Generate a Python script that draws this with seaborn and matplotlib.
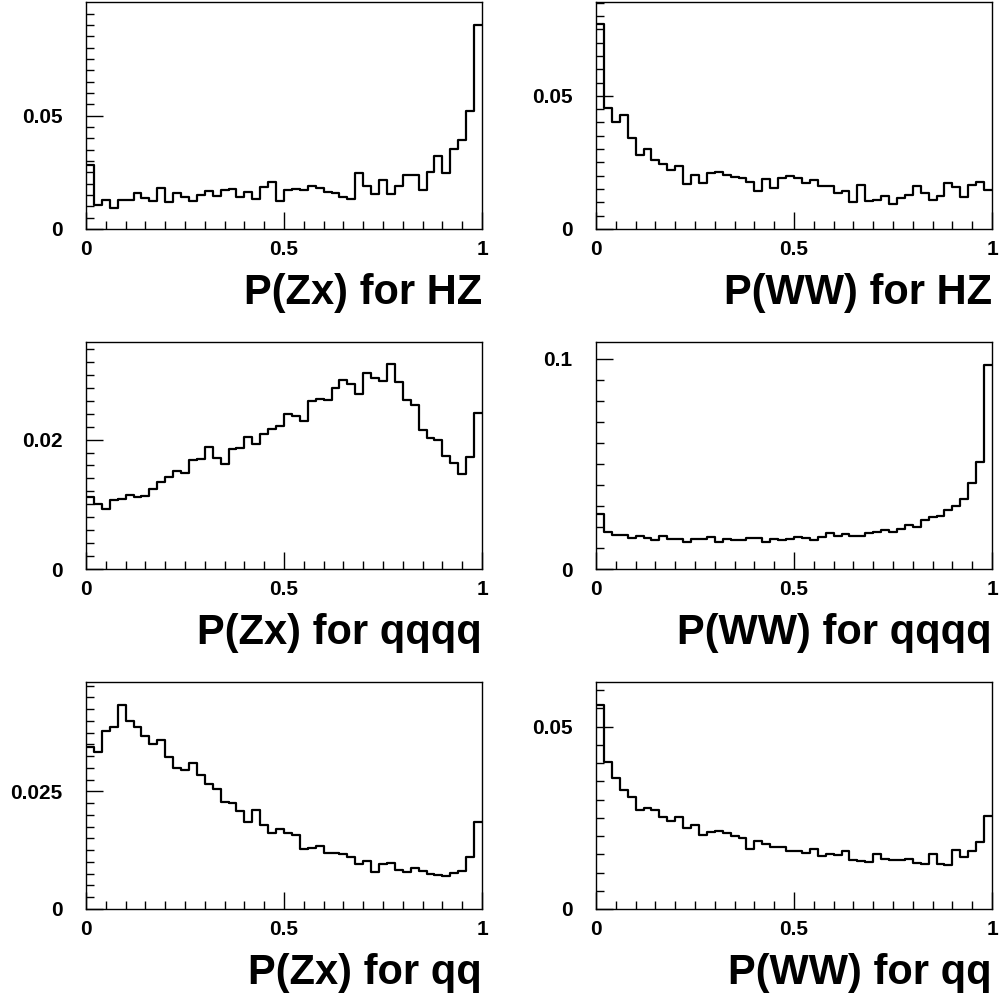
import numpy as np
import pandas as pd
import matplotlib
matplotlib.use('Agg')
import matplotlib.pyplot as plt
from matplotlib.ticker import MultipleLocator, FuncFormatter
import seaborn as sns


#%% Data: 50 bins on [0, 1], normalised probabilities
edges = np.linspace(0, 1, 51)
centres = (edges[:-1] + edges[1:]) / 2

zx_hz = [0.0283, 0.0106, 0.0126, 0.0094, 0.0126, 0.0126, 0.0160, 0.0138, 0.0122, 0.0180,
         0.0119, 0.0157, 0.0141, 0.0125, 0.0151, 0.0167, 0.0145, 0.0170, 0.0176, 0.0141,
         0.0163, 0.0130, 0.0183, 0.0207, 0.0125, 0.0170, 0.0176, 0.0173, 0.0189, 0.0180,
         0.0163, 0.0158, 0.0141, 0.0133, 0.0248, 0.0188, 0.0152, 0.0218, 0.0154, 0.0189,
         0.0236, 0.0236, 0.0172, 0.0252, 0.0323, 0.0246, 0.0353, 0.0391, 0.0518, 0.0899]

ww_hz = [0.0768, 0.0456, 0.0401, 0.0427, 0.0341, 0.0279, 0.0300, 0.0259, 0.0243, 0.0221,
         0.0238, 0.0169, 0.0204, 0.0172, 0.0209, 0.0213, 0.0202, 0.0195, 0.0190, 0.0177,
         0.0144, 0.0189, 0.0155, 0.0193, 0.0199, 0.0192, 0.0172, 0.0185, 0.0160, 0.0160,
         0.0134, 0.0143, 0.0102, 0.0167, 0.0105, 0.0110, 0.0124, 0.0095, 0.0118, 0.0129,
         0.0162, 0.0135, 0.0107, 0.0124, 0.0173, 0.0157, 0.0120, 0.0164, 0.0177, 0.0148]

zx_qqqq = [0.01113, 0.01000, 0.00928, 0.01072, 0.01088, 0.01139, 0.01108, 0.01134, 0.01237, 0.01345,
           0.01428, 0.01515, 0.01485, 0.01691, 0.01701, 0.01892, 0.01711, 0.01619, 0.01856, 0.01871,
           0.02041, 0.01933, 0.02082, 0.02160, 0.02211, 0.02392, 0.02371, 0.02294, 0.02603, 0.02629,
           0.02613, 0.02794, 0.02923, 0.02856, 0.02711, 0.03021, 0.02948, 0.02902, 0.03160, 0.02892,
           0.02608, 0.02536, 0.02155, 0.02031, 0.01995, 0.01753, 0.01639, 0.01474, 0.01737, 0.02412]

ww_qqqq = [0.0262, 0.0178, 0.0163, 0.0162, 0.0146, 0.0157, 0.0149, 0.0137, 0.0156, 0.0143,
           0.0141, 0.0129, 0.0141, 0.0141, 0.0151, 0.0129, 0.0141, 0.0138, 0.0138, 0.0146,
           0.0149, 0.0130, 0.0144, 0.0140, 0.0143, 0.0151, 0.0146, 0.0137, 0.0152, 0.0170,
           0.0159, 0.0167, 0.0159, 0.0157, 0.0173, 0.0178, 0.0184, 0.0178, 0.0189, 0.0210,
           0.0202, 0.0232, 0.0246, 0.0252, 0.0279, 0.0298, 0.0332, 0.0410, 0.0508, 0.0973]

zx_qq = [0.0344, 0.0334, 0.0379, 0.0388, 0.0435, 0.0400, 0.0387, 0.0368, 0.0351, 0.0359,
         0.0324, 0.0300, 0.0295, 0.0310, 0.0286, 0.0266, 0.0256, 0.0227, 0.0226, 0.0208,
         0.0185, 0.0211, 0.0178, 0.0161, 0.0170, 0.0162, 0.0158, 0.0128, 0.0129, 0.0134,
         0.0119, 0.0119, 0.0118, 0.0111, 0.0096, 0.0102, 0.0078, 0.0095, 0.0097, 0.0082,
         0.0079, 0.0087, 0.0081, 0.0075, 0.0073, 0.0070, 0.0077, 0.0081, 0.0110, 0.0185]

ww_qq = [0.0560, 0.0402, 0.0358, 0.0327, 0.0306, 0.0271, 0.0277, 0.0272, 0.0252, 0.0240,
         0.0253, 0.0222, 0.0231, 0.0203, 0.0210, 0.0215, 0.0207, 0.0200, 0.0194, 0.0165,
         0.0187, 0.0179, 0.0170, 0.0170, 0.0158, 0.0160, 0.0153, 0.0165, 0.0145, 0.0152,
         0.0149, 0.0158, 0.0133, 0.0131, 0.0128, 0.0151, 0.0137, 0.0133, 0.0135, 0.0136,
         0.0125, 0.0122, 0.0151, 0.0123, 0.0120, 0.0163, 0.0143, 0.0160, 0.0183, 0.0255]

titles = ['P(Zx) for HZ', 'P(WW) for HZ',
          'P(Zx) for qqqq', 'P(WW) for qqqq',
          'P(Zx) for qq', 'P(WW) for qq']
series = [zx_hz, ww_hz, zx_qqqq, ww_qqqq, zx_qq, ww_qq]


#%% Axis settings (ymax, major y step, minor y step)
y_settings = [(0.0999, 0.05, 0.005), (0.0851, 0.05, 0.005),
              (0.0350, 0.02, 0.002), (0.1078, 0.1, 0.01),
              (0.0482, 0.025, 0.0025), (0.0621, 0.05, 0.005)]

# axes boxes in figure fractions
col_left = [0.0861, 0.5966]
row_bottom = [0.7708, 0.4304, 0.0901]
width, height = 0.3964, 0.2268


def draw_panel(ax, values, title, ymax, major, minor):
    df = pd.DataFrame({'x': centres, 'w': values})
    sns.histplot(data=df, x='x', weights='w', bins=50, binrange=(0, 1),
                 element='step', fill=False, color='black', linewidth=1.6, ax=ax)
    ax.set_xlim(0, 1)
    ax.set_ylim(0, ymax)
    ax.xaxis.set_major_locator(MultipleLocator(0.5))
    ax.xaxis.set_minor_locator(MultipleLocator(0.05))
    ax.yaxis.set_major_locator(MultipleLocator(major))
    ax.yaxis.set_minor_locator(MultipleLocator(minor))
    fmt = FuncFormatter(lambda v, p: '%g' % round(v, 6))
    ax.xaxis.set_major_formatter(fmt)
    ax.yaxis.set_major_formatter(fmt)
    ax.tick_params(which='both', direction='in', top=False, right=False,
                   width=1.0, labelsize=15, color='black', labelcolor='black')
    ax.tick_params(which='major', length=12)
    ax.tick_params(which='minor', length=6)
    ax.tick_params(axis='y', which='major', pad=17)
    ax.tick_params(axis='x', which='major', pad=8)
    for lab in ax.get_xticklabels() + ax.get_yticklabels():
        lab.set_fontweight('bold')
    for sp in ax.spines.values():
        sp.set_linewidth(1.0)
        sp.set_color('black')
        sp.set_visible(True)
    ax.set_ylabel('')
    ax.set_xlabel(title, fontsize=30, fontweight='bold', color='black',
                  loc='right', labelpad=10)


def main():
    sns.set_style('ticks')
    plt.rcParams['font.family'] = ['Liberation Sans', 'DejaVu Sans']

    fig = plt.figure(figsize=(9.99, 9.99), dpi=100)
    for i, (values, title) in enumerate(zip(series, titles)):
        row, col = divmod(i, 2)
        ax = fig.add_axes([col_left[col], row_bottom[row], width, height])
        ymax, major, minor = y_settings[i]
        draw_panel(ax, values, title, ymax, major, minor)

    fig.savefig('out.png', dpi=100, facecolor='white')


if __name__ == '__main__':
    main()
